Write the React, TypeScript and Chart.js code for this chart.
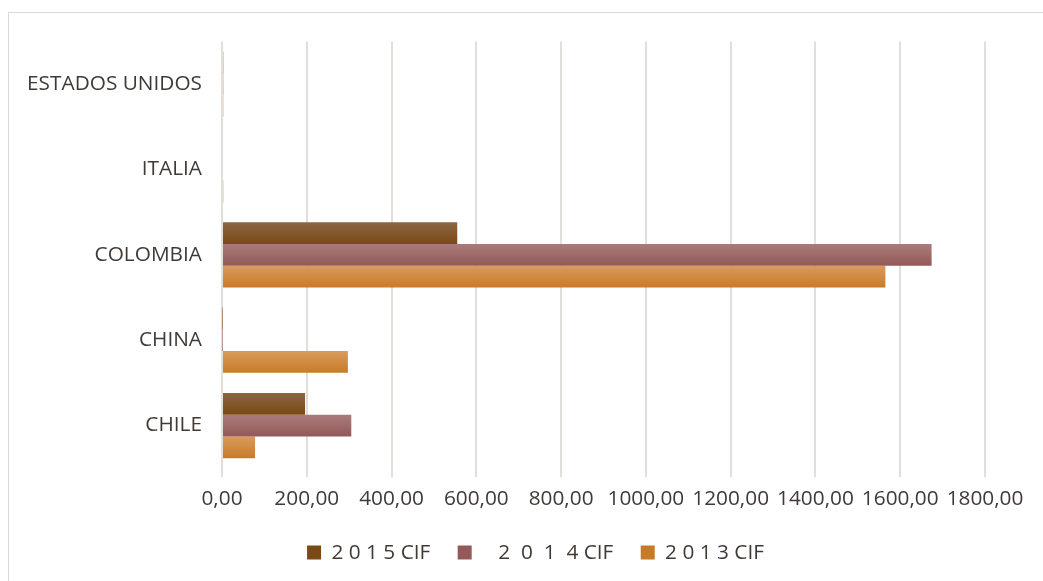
import React, { useEffect, useRef } from "react";
import { Chart, registerables } from "chart.js";

Chart.register(...registerables);

const categories = ["ESTADOS UNIDOS", "ITALIA", "COLOMBIA", "CHINA", "CHILE"];
const seriesLabels = ["2 0 1 5 CIF ", "   2  0  1  4 CIF ", "2 0 1 3 CIF"];
const values2015 = [3, 0, 555, 1, 196];
const values2014 = [3, 0, 1674, 1, 305];
const values2013 = [3, 3, 1565, 297, 78];
const xTicks = [0, 200, 400, 600, 800, 1000, 1200, 1400, 1600, 1800];

const gradients = [
  ["#8b6645", "#7a4914", "#80531f"],
  ["#aa7b7b", "#945959", "#9c6767"],
  ["#d99b5c", "#c97a28", "#d08938"],
];

const CAT_PCT = 0.765;
const FONT = "'Open Sans', sans-serif";
const TEXT = "#403a36";
const FS = 20.8;

const legendShift = {
  id: "legendShift",
  afterLayout(chart: any) {
    const lg = chart.legend;
    if (!lg) return;
    lg.left += 33.5;
    lg.right += 33.5;
  },
};

export default function App() {
  const ref = useRef<HTMLCanvasElement | null>(null);

  useEffect(() => {
    if (!ref.current) return;
    const makeBg = (di: number) => (ctx: any) => {
      const chart = ctx.chart;
      const y = chart.scales?.y;
      if (ctx.dataIndex === undefined || !chart.chartArea || !y) return gradients[di][2];
      const c0 = y.getPixelForValue(0);
      const c1 = y.getPixelForValue(1);
      const band = Math.abs(c1 - c0);
      const group = band * CAT_PCT;
      const barH = group / 3;
      const center = y.getPixelForValue(ctx.dataIndex);
      const top = center - group / 2 + di * barH;
      const g = chart.ctx.createLinearGradient(0, top, 0, top + barH);
      g.addColorStop(0, gradients[di][0]);
      g.addColorStop(1, gradients[di][1]);
      return g;
    };
    const data = [values2015, values2014, values2013];
    const chart = new Chart(ref.current, {
      type: "bar",
      data: {
        labels: categories,
        datasets: data.map((d, i) => ({
          label: seriesLabels[i],
          data: d,
          backgroundColor: makeBg(i),
          borderWidth: 0,
          categoryPercentage: CAT_PCT,
          barPercentage: 1,
        })),
      },
      plugins: [legendShift],
      options: {
        indexAxis: "y",
        responsive: false,
        animation: false,
        layout: { padding: { top: 28.5, right: 136, bottom: 18, left: 10 } },
        plugins: {
          tooltip: { enabled: false },
          legend: {
            position: "bottom",
            labels: {
              boxWidth: 14,
              boxHeight: 14,
              padding: 22,
              color: TEXT,
              font: { family: FONT, size: FS },
            },
          },
        },
        scales: {
          x: {
            min: 0,
            max: 1800,
            afterBuildTicks: (s: any) => {
              s.ticks = xTicks.map((v) => ({ value: v }));
            },
            grid: { color: "#e2deda", lineWidth: 2, tickLength: 9, drawTicks: true },
            border: { display: false },
            ticks: {
              padding: 9,
              color: TEXT,
              font: { family: FONT, size: FS },
              callback: (v: any) => Number(v).toFixed(2).replace(".", ","),
              maxRotation: 0,
              autoSkip: false,
            },
          },
          y: {
            afterFit: (s: any) => {
              s.width = 203;
              s.paddingTop = 0;
              s.paddingBottom = 0;
            },
            grid: { display: false, drawTicks: false },
            border: { display: false },
            ticks: { padding: 20, color: TEXT, font: { family: FONT, size: FS } },
          },
        },
      },
    });
    return () => chart.destroy();
  }, []);

  return (
    <div style={{ position: "fixed", inset: 0, overflow: "hidden", background: "#fff" }}>
      <div
        style={{
          position: "absolute",
          left: 8,
          top: 12,
          width: 1200,
          height: 620,
          border: "1px solid #dcd8d4",
          boxSizing: "border-box",
        }}
      >
        <canvas ref={ref} width={1112} height={578} style={{ position: "absolute", left: 0, top: 0 }} />
      </div>
    </div>
  );
}
